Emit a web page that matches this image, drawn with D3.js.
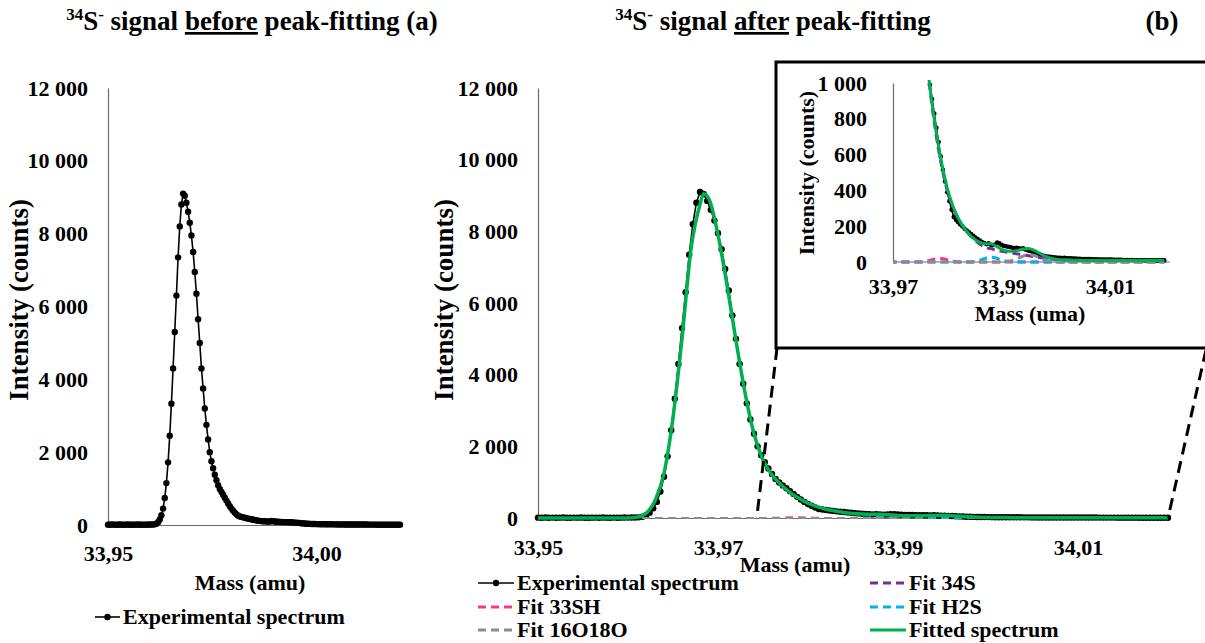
<!DOCTYPE html>
<html>
<head>
<meta charset="utf-8">
<script src="https://cdn.jsdelivr.net/npm/d3@7"></script>
<style>
  body { margin: 0; background: #ffffff; }
  svg text { font-family: "Liberation Serif", "Times New Roman", Times, "Nimbus Roman", "DejaVu Serif", serif; font-weight: bold; }
</style>
</head>
<body>
<svg id="chart" width="1205" height="643"></svg>
<script>
// experimental spectrum: one channel every massStep amu starting at massStart
const massStart = 33.95;
const massStep = 0.0004;
const expIntensity = [
  10, 8, 12, 9, 11, 7, 10, 13, 9, 8, 11, 10, 12, 9, 8, 10, 11, 9, 12, 10, 8, 11, 9, 10, 12, 11, 13, 14,
  18, 35, 75, 150, 270, 450, 740, 1150, 1720, 2450, 3330, 4300, 5300, 6300, 7350, 8200, 8800, 9100, 9040,
  8850, 8600, 8300, 7950, 7500, 6950, 6350, 5650, 5000, 4300, 3750, 3200, 2750, 2350, 2000, 1750, 1560, 1380, 1230, 1090, 990,
  910, 830, 750, 670, 590, 515, 450, 390, 340, 292,
  252, 236, 222, 210, 198, 186, 176, 166, 156, 146, 136, 128, 120, 112, 106, 100, 104, 96, 94, 98,
  108, 104, 96, 90, 88, 85, 84, 80, 78, 79, 77, 74, 76,
  70, 66, 62, 58, 54, 48, 44, 40, 36, 33, 31, 29, 27, 26, 25, 24, 23, 22, 23, 21,
  20, 20, 19, 19, 18, 18, 17, 17, 16, 16,
  16, 15, 15, 15, 14, 14, 14, 13, 13, 13, 13, 12, 12, 12, 12, 11, 11, 11, 11, 11,
  10, 10, 10, 10, 10, 10, 9, 9, 9, 9, 9, 9, 9, 9, 9
];

// peak-fitting results
const fitMass = [
  33.950, 33.955, 33.960, 33.961, 33.962, 33.963, 33.964, 33.965, 33.966, 33.967, 33.968, 33.9684,
  33.969, 33.970, 33.971, 33.972, 33.973, 33.974, 33.975, 33.976, 33.977, 33.978, 33.979, 33.980,
  33.981, 33.982, 33.983, 33.984, 33.985, 33.986, 33.987, 33.988, 33.989, 33.990, 33.991, 33.992,
  33.993, 33.994, 33.995, 33.996, 33.997, 33.998, 33.999, 34.000, 34.002, 34.005, 34.010, 34.015, 34.020
];
const fit34S = [
  0, 0, 0, 20, 130, 480, 1250, 2800, 5000, 7500, 8750, 9050,
  8900, 7900, 6500, 4950, 3500, 2350, 1620, 1200, 920, 700, 530, 400,
  310, 245, 195, 155, 125, 100, 82, 75, 66, 60, 55, 50,
  45, 40, 35, 30, 25, 21, 17, 14, 11, 9, 9, 9, 8
];
const fit33SH = [
  0, 0, 0, 0, 0, 0, 0, 0, 0, 0, 0, 0,
  0, 0, 0, 0, 0, 0, 0, 4, 11, 18, 19, 13,
  6, 1, 0, 0, 0, 0, 0, 0, 0, 0, 0, 0,
  0, 0, 0, 0, 0, 0, 0, 0, 0, 0, 0, 0, 0
];
const fitH2S = [
  0, 0, 0, 0, 0, 0, 0, 0, 0, 0, 0, 0,
  0, 0, 0, 0, 0, 0, 0, 0, 0, 0, 0, 0,
  0, 0, 0, 0, 3, 10, 20, 27, 22, 11, 4, 1,
  0, 0, 0, 0, 0, 0, 0, 0, 0, 0, 0, 0, 0
];
const fit16O18O = [
  0, 0, 0, 0, 0, 0, 0, 0, 0, 0, 0, 0,
  0, 0, 0, 0, 0, 0, 0, 0, 0, 0, 0, 0,
  0, 0, 0, 0, 0, 0, 0, 0, 0, 0, 3, 9,
  20, 33, 41, 36, 24, 12, 5, 2, 0, 0, 0, 0, 0
];
const fitTotal = [
  0, 0, 0, 20, 130, 480, 1250, 2800, 5000, 7500, 8750, 9050,
  8900, 7900, 6500, 4950, 3500, 2350, 1620, 1204, 931, 718, 549, 413,
  316, 246, 195, 155, 128, 110, 102, 102, 88, 71, 62, 60,
  65, 73, 76, 66, 49, 33, 22, 16, 11, 9, 9, 9, 8
];

// axes
const yTicks = [0, 2000, 4000, 6000, 8000, 10000, 12000];
const yTickLabels = ["0", "2 000", "4 000", "6 000", "8 000", "10 000", "12 000"];
const xTicksA = [33.95, 34.00];
const xTickLabelsA = ["33,95", "34,00"];
const xTicksB = [33.95, 33.97, 33.99, 34.01];
const xTickLabelsB = ["33,95", "33,97", "33,99", "34,01"];
const insetYTicks = [0, 200, 400, 600, 800, 1000];
const insetYTickLabels = ["0", "200", "400", "600", "800", "1 000"];
const insetXTicks = [33.97, 33.99, 34.01];
const insetXTickLabels = ["33,97", "33,99", "34,01"];
const insetMassMin = 33.9766;        // first channel shown in the zoom
const zoomRange = [33.9743, 34.02];  // where the dashed zoom lines land

const svg = d3.select("#chart");

const expData = expIntensity.map((v, i) => ({ m: massStart + i * massStep, v: v }));
const fitSeries = [
  { name: "Fit 34S", values: fit34S, color: "#7030A0", dash: "8,5" },
  { name: "Fit 33SH", values: fit33SH, color: "#FF3388", dash: "8,5" },
  { name: "Fit H2S", values: fitH2S, color: "#00B0F0", dash: "8,5" },
  { name: "Fit 16O18O", values: fit16O18O, color: "#8C8C8C", dash: "8,5" },
  { name: "Fitted spectrum", values: fitTotal, color: "#00B050", dash: null }
];

function styleAxis(g, size) {
  g.attr("font-family", null).attr("font-size", size);
  g.select(".domain").attr("stroke", "#6b6b6b").attr("stroke-width", 1.2);
  g.selectAll("text").attr("fill", "#000");
}

function title(x, parts) {
  const t = svg.append("text").attr("x", x).attr("y", 30)
    .attr("text-anchor", "middle").attr("font-size", 27);
  t.append("tspan").attr("font-size", 17).attr("dy", -10).text("34");
  t.append("tspan").attr("dy", 10).text("S");
  t.append("tspan").attr("font-size", 17).attr("dy", -10).text("-");
  t.append("tspan").attr("dy", 10).text(" signal ");
  t.append("tspan").attr("text-decoration", "underline").text(parts[0]);
  t.append("tspan").text(parts[1]);
}

title(252, ["before", " peak-fitting (a)"]);
title(773, ["after", " peak-fitting"]);
svg.append("text").attr("x", 1162).attr("y", 30).attr("text-anchor", "middle")
  .attr("font-size", 27).text("(b)");

// ---------- chart (a) ----------
const xA = d3.scaleLinear().domain([33.95, 34.02]).range([108, 400]);
const yA = d3.scaleLinear().domain([0, 12000]).range([525, 88]);

svg.append("g").attr("transform", "translate(0,525)")
  .call(d3.axisBottom(xA).tickValues(xTicksA).tickFormat((d, i) => xTickLabelsA[i]).tickSize(0).tickSizeOuter(0).tickPadding(20))
  .call(g => styleAxis(g, 22));
svg.append("g").attr("transform", "translate(108,0)")
  .call(d3.axisLeft(yA).tickValues(yTicks).tickFormat((d, i) => yTickLabels[i]).tickSize(0).tickSizeOuter(0).tickPadding(20))
  .call(g => styleAxis(g, 22));

svg.append("text").attr("transform", "translate(28,300) rotate(-90)")
  .attr("text-anchor", "middle").attr("font-size", 27).text("Intensity (counts)");
svg.append("text").attr("x", 250).attr("y", 590)
  .attr("text-anchor", "middle").attr("font-size", 22).text("Mass (amu)");

const lineA = d3.line().x(d => xA(d.m)).y(d => yA(d.v));
svg.append("path").datum(expData).attr("d", lineA)
  .attr("fill", "none").attr("stroke", "#000").attr("stroke-width", 1.6);
svg.append("g").selectAll("circle").data(expData).join("circle")
  .attr("cx", d => xA(d.m)).attr("cy", d => yA(d.v)).attr("r", 3.2).attr("fill", "#000");

// legend (a)
svg.append("line").attr("x1", 95).attr("x2", 120).attr("y1", 617).attr("y2", 617)
  .attr("stroke", "#000").attr("stroke-width", 1.6);
svg.append("circle").attr("cx", 107.5).attr("cy", 617).attr("r", 3.2).attr("fill", "#000");
svg.append("text").attr("x", 123).attr("y", 624).attr("font-size", 22).text("Experimental spectrum");

// ---------- chart (b) ----------
const xB = d3.scaleLinear().domain([33.95, 34.02]).range([538, 1168]);
const yB = d3.scaleLinear().domain([0, 12000]).range([518, 88]);

svg.append("g").attr("transform", "translate(0,518)")
  .call(d3.axisBottom(xB).tickValues(xTicksB).tickFormat((d, i) => xTickLabelsB[i]).tickSize(0).tickSizeOuter(0).tickPadding(21))
  .call(g => styleAxis(g, 22));
svg.append("g").attr("transform", "translate(538,0)")
  .call(d3.axisLeft(yB).tickValues(yTicks).tickFormat((d, i) => yTickLabels[i]).tickSize(0).tickSizeOuter(0).tickPadding(20))
  .call(g => styleAxis(g, 22));

svg.append("text").attr("transform", "translate(453,300) rotate(-90)")
  .attr("text-anchor", "middle").attr("font-size", 27).text("Intensity (counts)");
svg.append("text").attr("x", 795).attr("y", 572)
  .attr("text-anchor", "middle").attr("font-size", 22).text("Mass (amu)");

const lineB = d3.line().x(d => xB(d.m)).y(d => yB(d.v));
svg.append("path").datum(expData).attr("d", lineB)
  .attr("fill", "none").attr("stroke", "#000").attr("stroke-width", 1.6);
svg.append("g").selectAll("circle").data(expData).join("circle")
  .attr("cx", d => xB(d.m)).attr("cy", d => yB(d.v)).attr("r", 3.2).attr("fill", "#000");

const fitLineB = d3.line().curve(d3.curveMonotoneX).x(d => xB(d[0])).y(d => yB(d[1]));
fitSeries.forEach(s => {
  svg.append("path").datum(fitMass.map((m, i) => [m, s.values[i]])).attr("d", fitLineB)
    .attr("fill", "none").attr("stroke", s.color)
    .attr("stroke-width", s.dash ? 2 : 3.5)
    .attr("stroke-dasharray", s.dash);
});

// zoom connectors
const boxL = 776, boxT = 62, boxB = 348;
svg.append("line").attr("x1", boxL + 1).attr("y1", boxB).attr("x2", xB(zoomRange[0])).attr("y2", yB(0))
  .attr("stroke", "#000").attr("stroke-width", 3).attr("stroke-dasharray", "12,7");
svg.append("line").attr("x1", 1206).attr("y1", boxB + 2).attr("x2", xB(zoomRange[1])).attr("y2", yB(0))
  .attr("stroke", "#000").attr("stroke-width", 3).attr("stroke-dasharray", "12,7");

// ---------- inset ----------
svg.append("rect").attr("x", boxL).attr("y", boxT).attr("width", 460).attr("height", boxB - boxT)
  .attr("fill", "#fff").attr("stroke", "#000").attr("stroke-width", 3);

const xI = d3.scaleLinear().domain([33.97, 34.01]).range([893, 1110]);
const yI = d3.scaleLinear().domain([0, 1000]).range([262, 83]);

svg.append("clipPath").attr("id", "insetClip").append("rect")
  .attr("x", xI(33.97)).attr("y", yI(1000) - 3)
  .attr("width", xI(34.0215) - xI(33.97)).attr("height", yI(0) - yI(1000) + 7);

svg.append("g").attr("transform", "translate(0,262)")
  .call(d3.axisBottom(xI).tickValues(insetXTicks).tickFormat((d, i) => insetXTickLabels[i]).tickSize(0).tickSizeOuter(0).tickPadding(16))
  .call(g => g.select(".domain").attr("d", `M${xI(33.97)},0H${xI(34.021)}`))
  .call(g => styleAxis(g, 22));
svg.append("g").attr("transform", "translate(893,0)")
  .call(d3.axisLeft(yI).tickValues(insetYTicks).tickFormat((d, i) => insetYTickLabels[i]).tickSize(0).tickSizeOuter(0).tickPadding(26))
  .call(g => styleAxis(g, 22));

svg.append("text").attr("transform", "translate(814,173) rotate(-90)")
  .attr("text-anchor", "middle").attr("font-size", 22).text("Intensity (counts)");
svg.append("text").attr("x", 1030).attr("y", 321)
  .attr("text-anchor", "middle").attr("font-size", 22).text("Mass (uma)");

const inset = svg.append("g").attr("clip-path", "url(#insetClip)");
const insetExp = expData.filter(d => d.m >= insetMassMin);
inset.append("path").datum(insetExp)
  .attr("d", d3.line().x(d => xI(d.m)).y(d => yI(d.v)))
  .attr("fill", "none").attr("stroke", "#000").attr("stroke-width", 1.6);
inset.append("g").selectAll("circle").data(insetExp).join("circle")
  .attr("cx", d => xI(d.m)).attr("cy", d => yI(d.v)).attr("r", 2.3).attr("fill", "#000");

const fitLineI = d3.line().curve(d3.curveMonotoneX).x(d => xI(d[0])).y(d => yI(d[1]));
fitSeries.forEach(s => {
  inset.append("path").datum(fitMass.map((m, i) => [m, s.values[i]])).attr("d", fitLineI)
    .attr("fill", "none").attr("stroke", s.color)
    .attr("stroke-width", 3)
    .attr("stroke-dasharray", s.dash);
});

// ---------- legend (b) ----------
const legendItems = [{ name: "Experimental spectrum", color: "#000", dash: null, dot: true }]
  .concat(fitSeries.map(s => ({ name: s.name, color: s.color, dash: s.dash, dot: false })));
const legCols = [478, 870], legRows = [583, 607, 630];
legendItems.forEach((it, i) => {
  const lx = legCols[i % 2], ly = legRows[Math.floor(i / 2)];
  const g = svg.append("g");
  g.append("line").attr("x1", lx).attr("x2", lx + 36).attr("y1", ly).attr("y2", ly)
    .attr("stroke", it.color)
    .attr("stroke-width", it.dot ? 1.6 : 3)
    .attr("stroke-dasharray", it.dash ? "8,5" : null);
  if (it.dot) g.append("circle").attr("cx", lx + 18).attr("cy", ly).attr("r", 3.2).attr("fill", "#000");
  g.append("text").attr("x", lx + 39).attr("y", ly + 7).attr("font-size", 22).text(it.name);
});
</script>
</body>
</html>
